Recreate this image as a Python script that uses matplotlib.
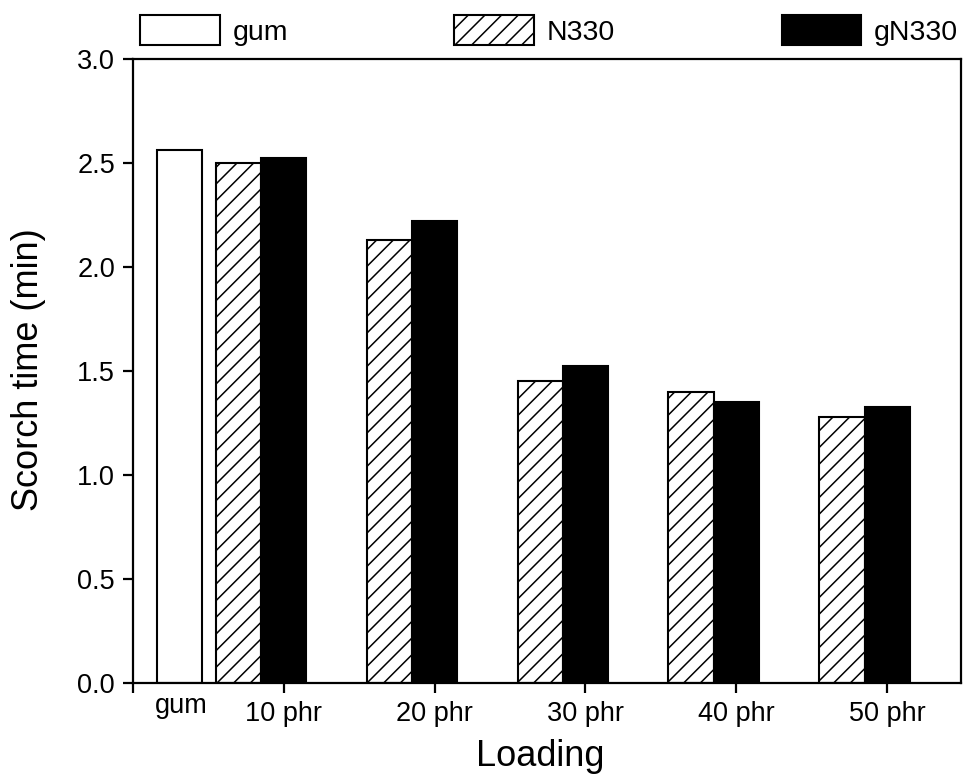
import matplotlib
matplotlib.use("Agg")
import matplotlib.pyplot as plt
import matplotlib.transforms as mtransforms

plt.rcParams['font.family'] = ['Liberation Sans', 'DejaVu Sans']
plt.rcParams['hatch.linewidth'] = 1.1
plt.rcParams['hatch.color'] = 'black'

# data
loadings = ['10 phr', '20 phr', '30 phr', '40 phr', '50 phr']
gum_value = 2.56
n330 = [2.50, 2.13, 1.45, 1.40, 1.28]
gn330 = [2.52, 2.22, 1.525, 1.35, 1.325]

width = 0.30
pos = [1, 2, 3, 4, 5]

fig = plt.figure(figsize=(9.63, 7.74), dpi=100)
ax = fig.add_axes([0.1381, 0.1176, 0.998 - 0.1381, 0.9244 - 0.1176])

b_gum = ax.bar([0.308], [gum_value], width, color='white', edgecolor='black', linewidth=1.5, label='gum')
b_n = ax.bar([p - width for p in pos], n330, width, color='white', edgecolor='black',
             hatch='//', linewidth=1.5, label='N330')
b_g = ax.bar(pos, gn330, width, color='black', edgecolor='black', linewidth=1.5, label='gN330')

ax.set_xlim(0, 5.49)
ax.set_ylim(0, 3.0)
ax.set_xticks([0] + pos)
ax.set_xticklabels([''] + loadings)
ax.set_yticks([0, 0.5, 1.0, 1.5, 2.0, 2.5, 3.0])
ax.set_yticklabels(['0.0', '0.5', '1.0', '1.5', '2.0', '2.5', '3.0'])
ax.tick_params(direction='out', length=7, width=1.6, labelsize=19.5, colors='black')
ax.tick_params(axis='x', pad=6)
ax.tick_params(axis='y', pad=6)
for s in ax.spines.values():
    s.set_linewidth(1.6)

# the "gum" category label sits off the tick grid, a bit higher
trans = mtransforms.blended_transform_factory(ax.transData, ax.transAxes)
ax.text(0.318, -0.048, 'gum', transform=trans, ha='center', va='baseline', fontsize=19.5)

ax.set_ylabel('Scorch time (min)', fontsize=26)
ax.yaxis.set_label_coords(-0.105, 0.501)
ax.set_xlabel('Loading', fontsize=26)
ax.xaxis.set_label_coords(0.4915, -0.090)

fig.legend(handles=[b_gum, b_n, b_g], labels=['gum', 'N330', 'gN330'],
           loc='center', bbox_to_anchor=(0.1454, 0.9406, 0.995 - 0.1454, 0.04),
           mode='expand', ncol=3, frameon=False, fontsize=20.5, borderpad=0,
           borderaxespad=0, handlelength=2.8, handleheight=1.2, handletextpad=0.45)

fig.savefig('out.png', dpi=100)
